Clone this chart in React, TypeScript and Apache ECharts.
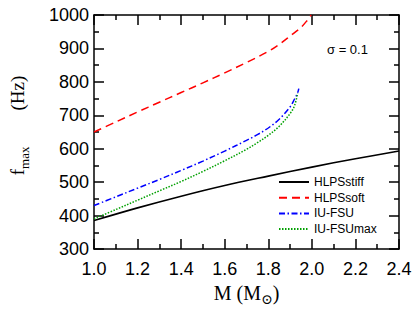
import React, { useEffect, useRef } from "react";
import * as echarts from "echarts";

const xTicks = { min: 1.0, max: 2.4, interval: 0.2 };
const yTicks = { min: 300, max: 1000, interval: 100 };

const seriesNames = ["HLPSstiff", "HLPSsoft", "IU-FSU", "IU-FSUmax"];

const stiffM = [1.0, 1.2, 1.4, 1.6, 1.8, 2.0, 2.2, 2.4];
const stiffF = [385, 423, 458, 490, 518, 545, 570, 593];

const softM = [1.0, 1.1, 1.2, 1.3, 1.4, 1.5, 1.6, 1.7, 1.8, 1.85, 1.9, 1.95, 1.98, 1.997];
const softF = [650, 680, 710, 739, 768, 797, 827, 858, 891, 912, 937, 963, 985, 1000];

const fsuM = [1.0, 1.1, 1.2, 1.3, 1.4, 1.5, 1.6, 1.7, 1.75, 1.8, 1.85, 1.9, 1.92, 1.935, 1.94];
const fsuF = [430, 456, 482, 508, 535, 563, 593, 625, 642, 662, 688, 725, 748, 768, 780];

const fsuMaxM = [1.0, 1.1, 1.2, 1.3, 1.4, 1.5, 1.6, 1.7, 1.75, 1.8, 1.85, 1.9, 1.92, 1.935];
const fsuMaxF = [390, 418, 446, 474, 502, 532, 564, 598, 618, 640, 667, 705, 728, 766];

const annotation = "σ = 0.1";

const zip = (xs: number[], ys: number[]) => xs.map((x, i) => [x, ys[i]]);

const SANS = "'Liberation Sans', Arial, Helvetica, sans-serif";
const SERIF = "'Liberation Serif', 'DejaVu Serif', 'Times New Roman', serif";

const axisCommon = (showLabel: boolean, isX: boolean) => ({
  axisLine: { show: true, onZero: false, lineStyle: { color: "#000", width: 1.5 } },
  axisTick: { show: true, inside: true, length: 10, lineStyle: { color: "#000", width: 1.5 } },
  minorTick: { show: true, splitNumber: 2, length: 5, lineStyle: { color: "#000", width: 1.5 } },
  splitLine: { show: false },
  minorSplitLine: { show: false },
  axisLabel: {
    show: showLabel,
    color: "#000",
    fontSize: 18,
    fontFamily: SANS,
    margin: isX ? 11 : 5,
    formatter: isX ? (v: number) => v.toFixed(1) : (v: number) => String(v),
  },
});

export default function App() {
  const ref = useRef<HTMLDivElement>(null);
  useEffect(() => {
    if (!ref.current) return;
    const chart = echarts.init(ref.current, null, { renderer: "svg" });
    const lineSeries = (name: string, xs: number[], ys: number[], color: string, width: number, type: any) => ({
      name,
      type: "line",
      data: zip(xs, ys),
      smooth: 0.35,
      symbol: "none",
      lineStyle: { color, width, type },
      itemStyle: { color },
    });
    const option = {
      animation: false,
      backgroundColor: "#fff",
      grid: { left: 87, top: 15, width: 312, height: 234 },
      xAxis: [
        {
          type: "value",
          position: "bottom",
          ...xTicks,
          ...axisCommon(true, true),
          name: "{a|M (M}{s|⊙}{a|)}",
          nameLocation: "middle",
          nameGap: 32,
          nameTextStyle: {
            rich: {
              a: { fontFamily: SERIF, fontSize: 20, color: "#000", lineHeight: 22, verticalAlign: "top" },
              s: { fontFamily: SERIF, fontSize: 14, color: "#000", lineHeight: 14, verticalAlign: "top", padding: [10, 0, 0, 0] },
            },
          },
        },
        {
          type: "value",
          position: "top",
          ...xTicks,
          ...axisCommon(false, true),
        },
      ],
      yAxis: [
        {
          type: "value",
          position: "left",
          ...yTicks,
          ...axisCommon(true, false),
          name: "{a|f}{s|max}{sp|}{a|(Hz)}",
          nameLocation: "middle",
          nameRotate: 90,
          nameGap: 64,
          nameTextStyle: {
            padding: [0, 0, 0, 13],
            rich: {
              a: { fontFamily: SERIF, fontSize: 19, color: "#000", lineHeight: 22, verticalAlign: "top" },
              s: { fontFamily: SERIF, fontSize: 13, color: "#000", lineHeight: 13, verticalAlign: "top", padding: [10, 0, 0, 0] },
              sp: { width: 36 },
            },
          },
        },
        {
          type: "value",
          position: "right",
          ...yTicks,
          ...axisCommon(false, false),
        },
      ],
      legend: {
        orient: "vertical",
        left: 278,
        top: 176,
        padding: 0,
        itemWidth: 30,
        itemHeight: 12,
        itemGap: 3.7,
        itemStyle: { opacity: 0, borderWidth: 0 },
        textStyle: { color: "#000", fontSize: 12, fontFamily: SANS },
        data: seriesNames,
      },
      graphic: [
        {
          type: "text",
          left: 327,
          top: 43,
          style: { text: annotation, fontSize: 13, fill: "#000", fontFamily: SANS },
        },
      ],
      series: [
        lineSeries(seriesNames[0], stiffM, stiffF, "#000000", 1.6, "solid"),
        lineSeries(seriesNames[1], softM, softF, "#ff0000", 1.5, [8, 5]),
        lineSeries(seriesNames[2], fsuM, fsuF, "#0000ff", 1.5, [6, 2.5, 1.5, 2.5]),
        lineSeries(seriesNames[3], fsuMaxM, fsuMaxF, "#00a000", 1.5, [1.5, 1.5]),
      ],
    };
    chart.setOption(option as any);
    return () => chart.dispose();
  }, []);
  return (
    <div
      ref={ref}
      style={{ position: "fixed", left: 0, top: 0, width: 415, height: 312, background: "#fff" }}
    />
  );
}
